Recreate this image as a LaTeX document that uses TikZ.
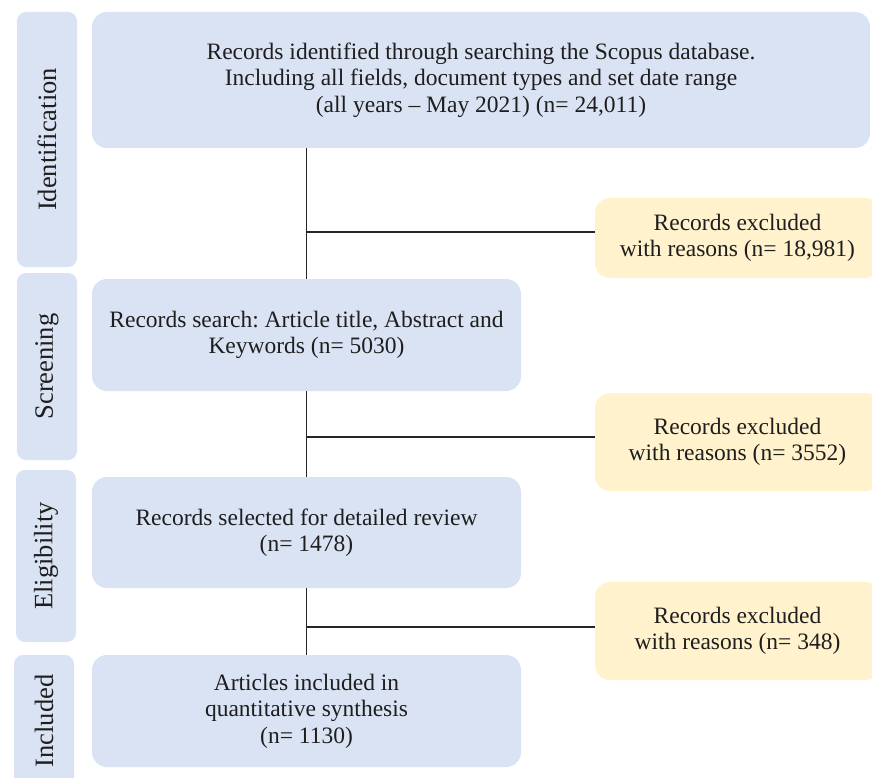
\documentclass[tikz,border=0pt]{standalone}
\usepackage{fontspec}
\setmainfont{Liberation Serif}
\frenchspacing
\definecolor{boxblue}{HTML}{DAE3F3}
\definecolor{boxyellow}{HTML}{FFF2CC}
\definecolor{txt}{HTML}{1E1E1E}
\begin{document}
\begin{tikzpicture}[x=1pt,y=-1pt,
  every node/.style={text=txt, font=\fontsize{23.5}{26.5}\selectfont, inner sep=0pt, align=center},
  mainbox/.style={fill=boxblue, rounded corners=15pt},
  exbox/.style={fill=boxyellow, rounded corners=15pt, minimum width=285pt},
  stagebox/.style={fill=boxblue, rounded corners=9pt, rotate=90, minimum height=60pt,
                   font=\fontsize{26.5}{30}\selectfont},
  link/.style={draw=black!85, line width=1.1pt}
]
\useasboundingbox (0,0) rectangle (872,778);
\clip (0,0) rectangle (872,778);

% stage labels
\node[stagebox, minimum width=255pt] (sid) at (47,139.5) {Identification};
\node[stagebox, minimum width=187pt] (ssc) at (47,366.5) {Screening};
\node[stagebox, minimum width=172pt] (sel) at (46,556) {Eligibility};
\node[stagebox, minimum width=132pt] (sin) at (44,721) {Included};

% main boxes
\node[mainbox, minimum width=778pt, minimum height=136pt] (b1) at (481,80)
  {Records identified through searching the Scopus database.\\
   Including all fields, document types and set date range\\
   (all years -- May 2021) (n= 24,011)};
\node[mainbox, minimum width=429pt, minimum height=112pt] (b2) at (306.5,335)
  {Records search: Article title, Abstract and\\ Keywords (n= 5030)};
\node[mainbox, minimum width=429pt, minimum height=111pt] (b3) at (306.5,532.5)
  {Records selected for detailed review\\ (n= 1478)};
\node[mainbox, minimum width=429pt, minimum height=112pt] (b4) at (306.5,711)
  {Articles included in\\ quantitative synthesis\\ (n= 1130)};

% excluded boxes
\node[exbox, minimum height=80pt] (e1) at (737.5,238)
  {Records excluded\\ with reasons (n= 18,981)};
\node[exbox, minimum height=98pt] (e2) at (737.5,442)
  {Records excluded\\ with reasons (n= 3552)};
\node[exbox, minimum height=98pt] (e3) at (737.5,631)
  {Records excluded\\ with reasons (n= 348)};

% junction coordinates
\coordinate (j1) at (305,232);
\coordinate (j2) at (305,437);
\coordinate (j3) at (305,627);

% connectors
\draw[link] (b2.north) -- (b2.north |- b1.south);
\draw[link] (b2.north |- j1) -- (j1 -| e1.west);
\draw[link] (b3.north) -- (b3.north |- b2.south);
\draw[link] (b3.north |- j2) -- (j2 -| e2.west);
\draw[link] (b4.north) -- (b4.north |- b3.south);
\draw[link] (b4.north |- j3) -- (j3 -| e3.west);
\end{tikzpicture}
\end{document}
